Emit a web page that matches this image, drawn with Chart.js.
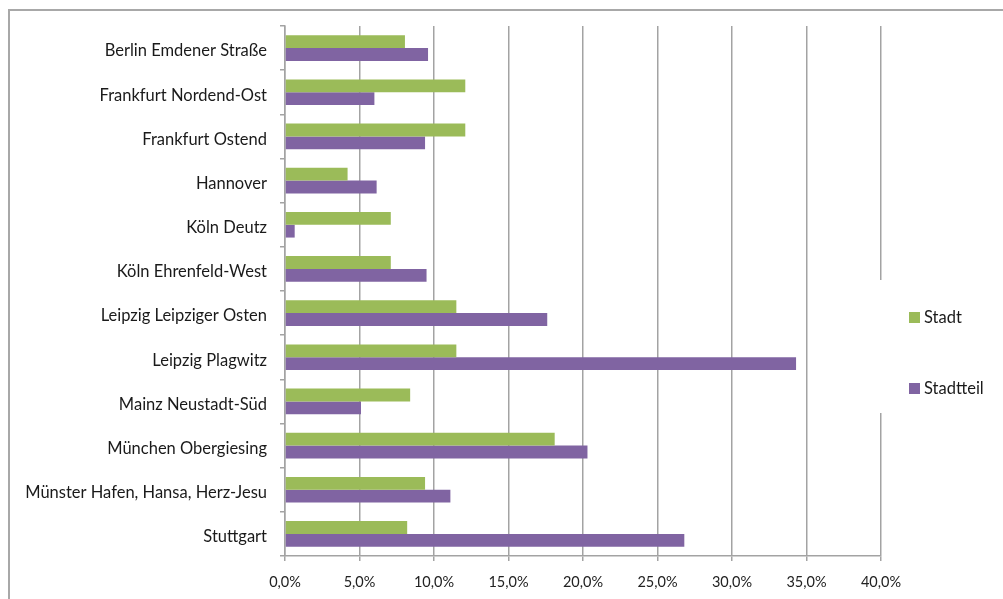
<!DOCTYPE html>
<html>
<head>
<meta charset="utf-8">
<script src="https://cdn.jsdelivr.net/npm/chart.js@4/dist/chart.umd.min.js"></script>
<style>
  html, body { margin: 0; padding: 0; background: #ffffff; }
  #wrap { position: relative; width: 1003px; height: 599px; }
</style>
</head>
<body>
<div id="wrap"><canvas id="c" width="1003" height="599"></canvas></div>
<script>
const categories = [
  "Berlin Emdener Straße",
  "Frankfurt Nordend-Ost",
  "Frankfurt Ostend",
  "Hannover",
  "Köln Deutz",
  "Köln Ehrenfeld-West",
  "Leipzig Leipziger Osten",
  "Leipzig Plagwitz",
  "Mainz Neustadt-Süd",
  "München Obergiesing",
  "Münster Hafen, Hansa, Herz-Jesu",
  "Stuttgart"
];
const stadt     = [8.05, 12.1, 12.1, 4.2, 7.1, 7.1, 11.5, 11.5, 8.4, 18.1, 9.4, 8.2];
const stadtteil = [9.6, 6.0, 9.4, 6.15, 0.65, 9.5, 17.6, 34.3, 5.1, 20.3, 11.1, 26.8];
const seriesNames = ["Stadt", "Stadtteil"];
const xTicks = [0, 5, 10, 15, 20, 25, 30, 35, 40];

const GREEN = "#9bbb59";
const PURPLE = "#8064a2";
const GRID = "#a3a3a3";
const FONT = "Lato, 'Open Sans', sans-serif";

const framePlugin = {
  id: "frame",
  beforeDraw(chart) {
    const ctx = chart.ctx;
    ctx.save();
    ctx.fillStyle = "#ffffff";
    ctx.fillRect(0, 0, chart.width, chart.height);
    ctx.strokeStyle = "#a8a8a8";
    ctx.lineWidth = 2;
    ctx.beginPath();
    ctx.moveTo(1003, 10);
    ctx.lineTo(9, 10);
    ctx.lineTo(9, 599);
    ctx.stroke();
    ctx.restore();
  }
};

const legendBoxPlugin = {
  id: "legendBox",
  beforeDatasetsDraw(chart) {
    const ctx = chart.ctx;
    const a = chart.chartArea;
    ctx.save();
    ctx.fillStyle = "#ffffff";
    ctx.fillRect(a.right - 4, 280, 10, 133);
    ctx.restore();
  },
  afterDraw(chart) {
    const ctx = chart.ctx;
    const ys = [317, 388];
    ctx.save();
    ctx.font = "16.5px " + FONT;
    ctx.textBaseline = "middle";
    ctx.textAlign = "left";
    chart.data.datasets.forEach((ds, i) => {
      ctx.fillStyle = ds.backgroundColor;
      ctx.fillRect(909, ys[i] - 5, 11, 11);
      ctx.fillStyle = "#1a1a1a";
      ctx.fillText(ds.label, 924, ys[i] + 1);
    });
    ctx.restore();
  }
};

new Chart(document.getElementById("c"), {
  type: "bar",
  data: {
    labels: categories,
    datasets: [
      { label: seriesNames[0], data: stadt, backgroundColor: GREEN, borderWidth: 0 },
      { label: seriesNames[1], data: stadtteil, backgroundColor: PURPLE, borderWidth: 0 }
    ]
  },
  options: {
    indexAxis: "y",
    responsive: false,
    animation: false,
    maintainAspectRatio: false,
    devicePixelRatio: 1,
    categoryPercentage: 0.58,
    barPercentage: 1.0,
    layout: { padding: { top: 26, left: 0, right: 122, bottom: 0 } },
    plugins: {
      legend: { display: false },
      tooltip: { enabled: false },
      title: { display: false }
    },
    scales: {
      x: {
        type: "linear",
        min: 0,
        max: 40,
        afterBuildTicks(scale) { scale.ticks = xTicks.map(v => ({ value: v })); },
        afterFit(scale) { scale.height = 43; },
        grid: {
          color: GRID,
          lineWidth: 1.5,
          drawOnChartArea: true,
          drawTicks: true,
          tickLength: 5,
          tickColor: GRID
        },
        border: { display: true, color: GRID, width: 1.5 },
        ticks: {
          font: { family: FONT, size: 14.5 },
          color: "#222222",
          padding: 13,
          maxRotation: 0,
          callback: (v) => Number(v).toFixed(1).replace(".", ",") + "%"
        }
      },
      y: {
        type: "category",
        offset: true,
        afterFit(scale) { scale.width = 285; },
        grid: {
          offset: true,
          drawOnChartArea: false,
          drawTicks: true,
          tickLength: 5,
          tickColor: GRID,
          lineWidth: 1.5
        },
        border: { display: true, color: GRID, width: 1.5 },
        ticks: {
          font: { family: FONT, size: 16.5 },
          color: "#1a1a1a",
          padding: 13,
          labelOffset: 3,
          autoSkip: false
        }
      }
    }
  },
  plugins: [framePlugin, legendBoxPlugin]
});
</script>
</body>
</html>
